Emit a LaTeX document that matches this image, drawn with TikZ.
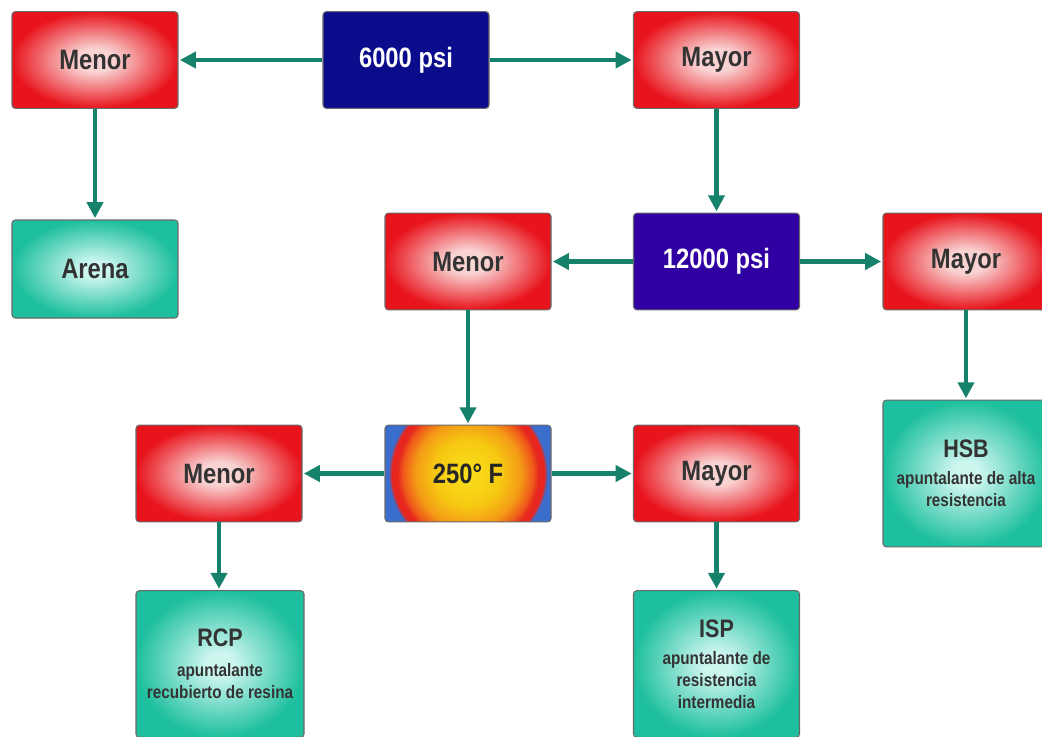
\documentclass[tikz,border=0pt]{standalone}
\usepackage{fontspec}
\setmainfont{Liberation Sans}
\newfontfamily\cond{Liberation Sans}[FakeStretch=0.85]
\usetikzlibrary{arrows.meta}
\definecolor{redC}{HTML}{F9D2D2}
\definecolor{redE}{HTML}{E8141C}
\definecolor{tealC}{HTML}{CDF6EF}
\definecolor{tealE}{HTML}{1DBF9E}
\definecolor{navyA}{HTML}{0B0C8B}
\definecolor{violA}{HTML}{3000A2}
\definecolor{arrowC}{HTML}{16826C}
\definecolor{boxB}{HTML}{6A6A6A}
\definecolor{txtD}{HTML}{333333}
\definecolor{hY}{HTML}{F8E01C}
\definecolor{hY2}{HTML}{F7CA12}
\definecolor{hO}{HTML}{F49C16}
\definecolor{hOR}{HTML}{EF5A1A}
\definecolor{hR}{HTML}{E6261F}
\definecolor{hB}{HTML}{3B6DCC}
\pgfdeclareradialshading{redsh}{\pgfpoint{0bp}{0bp}}{color(0bp)=(redC); color(6bp)=(redC); color(25bp)=(redE); color(50bp)=(redE)}
\pgfdeclareradialshading{tealsh}{\pgfpoint{0bp}{0bp}}{color(0bp)=(tealC); color(4bp)=(tealC); color(25bp)=(tealE); color(50bp)=(tealE)}
\pgfdeclareradialshading{heatsh}{\pgfpoint{0bp}{0bp}}{color(0bp)=(hY); color(7.5bp)=(hY2); color(12.3bp)=(hO); color(15.2bp)=(hOR); color(16.6bp)=(hR); color(17.9bp)=(hR); color(18.6bp)=(hB); color(50bp)=(hB)}
\begin{document}
\begin{tikzpicture}[x=0.75pt,y=-0.75pt,
  base/.style={rectangle, rounded corners=2.5pt, draw=boxB, line width=0.8pt, inner sep=0pt,
    minimum width=124.5pt, minimum height=72.5pt, align=center},
  redbox/.style={base, shading=redsh, text=txtD, font=\cond\bfseries\fontsize{21}{24}\selectfont},
  bluebox/.style={base, text=white, font=\cond\bfseries\fontsize{21}{24}\selectfont},
  tealbox/.style={base, shading=tealsh, text=txtD, font=\cond\bfseries\fontsize{13.5}{16.5}\selectfont},
  heatbox/.style={base, text=black!85, font=\cond\bfseries\fontsize{21}{24}\selectfont,
    path picture={\shade[shading=heatsh] (path picture bounding box.center) circle (80pt);}},
  conn/.style={draw=arrowC, line width=3.2pt, -{Triangle[length=12pt,width=12pt]}, shorten >=1pt}
]
\useasboundingbox (0,0) rectangle (1042,736);
\fill[white] (0,0) rectangle (1042,736);
% row 1
\node[redbox] (me1) at (95,60) {Menor};
\node[bluebox, fill=navyA] (p6) at (406,60) {6000 psi};
\node[redbox] (ma1) at (716.5,60) {Mayor};
\node[tealbox, minimum height=73.5pt, font=\cond\bfseries\fontsize{21}{24}\selectfont] (ar) at (95,269) {Arena};
% row 2
\node[redbox] (me2) at (468,261.5) {Menor};
\node[bluebox, fill=violA] (p12) at (716.5,261.5) {12000 psi};
\node[redbox] (ma2) at (966,261.5) {Mayor};
\node[tealbox, minimum height=110pt] (hsb) at (966,473.5)
  {{\fontsize{19}{22}\selectfont HSB}\\[4pt]apuntalante de alta\\resistencia};
% row 3
\node[redbox] (me3) at (219,473.5) {Menor};
\node[heatbox] (tf) at (468,473.5) {250° F};
\node[redbox] (ma3) at (716.5,473.5) {Mayor};
\node[tealbox, minimum height=110pt, minimum width=126pt] (rcp) at (220,664)
  {{\fontsize{19}{22}\selectfont RCP}\\[6pt]apuntalante\\recubierto de resina};
\node[tealbox, minimum height=110pt] (isp) at (716.5,664)
  {{\fontsize{19}{22}\selectfont ISP}\\[4pt]apuntalante de\\resistencia\\intermedia};
% connectors
\draw[conn] (p6) -- (me1);
\draw[conn] (p6) -- (ma1);
\draw[conn] (me1) -- (ar);
\draw[conn] (ma1) -- (p12);
\draw[conn] (p12) -- (me2);
\draw[conn] (p12) -- (ma2);
\draw[conn] (ma2) -- (hsb);
\draw[conn] (me2) -- (tf);
\draw[conn] (tf) -- (me3);
\draw[conn] (tf) -- (ma3);
\draw[conn] (me3) -- (me3 |- rcp.north);
\draw[conn] (ma3) -- (isp);
\end{tikzpicture}
\end{document}
